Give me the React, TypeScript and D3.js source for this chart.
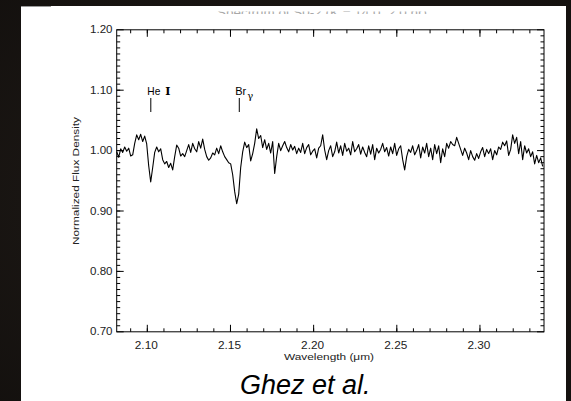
import React from "react";
import * as d3 from "d3";

const WAVE_START = 2.0816;
const WAVE_STEP = 0.0012023;
const FLUX = [
  0.998, 0.989, 1.003, 0.997, 1.006, 0.999, 1.004, 0.991, 0.993, 1.012,
  1.026, 1.018, 1.027, 1.015, 1.024, 1.011, 0.975, 0.948, 0.972, 0.997,
  1.006, 0.998, 1.003, 0.985, 0.978, 0.982, 0.972, 0.979, 0.968, 0.990,
  1.009, 1.004, 0.991, 0.995, 0.990, 1.000, 1.010, 0.997, 1.012, 1.003,
  0.998, 1.015, 1.004, 1.019, 1.002, 0.990, 0.984, 0.988, 0.996, 0.993,
  1.004, 0.995, 1.008, 0.998, 0.990, 0.985, 0.980, 0.978, 0.960, 0.932,
  0.912, 0.928, 0.972, 0.998, 1.014, 1.005, 1.010, 0.983, 0.995, 1.012,
  1.036, 1.020, 1.025, 1.005, 1.018, 1.002, 1.012, 0.996, 1.015, 0.962,
  0.990, 1.012, 1.000, 1.008, 1.015, 1.005, 0.998, 1.010, 1.001, 1.007,
  0.995, 1.004, 0.997, 1.012, 0.995, 1.005, 1.010, 0.993, 0.999, 1.003,
  0.988, 1.004, 1.008, 1.026, 1.001, 0.985, 1.000, 1.008, 0.990, 0.998,
  1.014, 0.996, 1.008, 0.992, 1.012, 0.999, 1.004, 0.993, 1.015, 0.998,
  1.003, 1.010, 0.994, 1.006, 0.997, 0.990, 1.008, 0.994, 1.010, 0.985,
  1.004, 0.996, 1.002, 1.012, 0.998, 1.005, 0.991, 1.006, 0.995, 1.012,
  0.992, 1.003, 1.008, 0.985, 0.968, 0.990, 1.002, 0.997, 1.008, 0.993,
  1.000, 1.010, 0.988, 1.006, 0.996, 1.012, 0.990, 1.004, 0.985, 1.010,
  0.995, 1.008, 0.980, 1.003, 0.990, 1.012, 1.004, 1.015, 1.010, 1.008,
  1.022, 1.012, 1.002, 0.992, 1.004, 0.996, 0.985, 1.000, 0.990, 0.984,
  0.995, 0.987, 0.998, 1.005, 0.990, 1.002, 0.995, 1.003, 0.985, 1.000,
  0.993, 1.006, 1.002, 1.014, 1.008, 1.016, 0.992, 1.002, 1.026, 1.012,
  1.022, 0.995, 1.015, 0.985, 1.008, 0.996, 1.003, 0.990, 0.998, 0.978,
  0.992, 0.980, 0.988, 0.974,
];

const X_TICKS = [2.1, 2.15, 2.2, 2.25, 2.3];
const X_TICK_LABELS = ["2.10", "2.15", "2.20", "2.25", "2.30"];
const Y_TICKS = [0.7, 0.8, 0.9, 1.0, 1.1, 1.2];
const Y_TICK_LABELS = ["0.70", "0.80", "0.90", "1.00", "1.10", "1.20"];

const LINE_MARKS = [
  { wave: 2.1021, label: "He", roman: "I" },
  { wave: 2.1553, label: "Br", sub: "γ" },
];

export default function App() {
  const W = 571, H = 401;
  const left = 116.7, right = 544, top = 29.8, bottom = 331.8;
  const x = d3.scaleLinear().domain([2.0816, 2.3385]).range([left, right]);
  const y = d3.scaleLinear().domain([0.7, 1.2]).range([bottom, top]);

  const data = FLUX.map((f, i) => ({ w: WAVE_START + i * WAVE_STEP, f }));
  const line = d3.line<{ w: number; f: number }>().x((d) => x(d.w)).y((d) => y(d.f));

  const xMinor = d3.range(2.09, 2.34, 0.01).filter((v) => x(v) > left + 0.5 && x(v) < right - 0.5);
  const yMinor = d3.range(0.71, 1.2, 0.01);
  const font = "'Liberation Sans', Arial, sans-serif";

  return (
    <svg width={W} height={H} style={{ position: "absolute", left: 0, top: 0 }} xmlns="http://www.w3.org/2000/svg">
      <defs>
        <clipPath id="titleclip">
          <rect x={0} y={11.5} width={W} height={2.5} />
        </clipPath>
        <radialGradient id="bg" cx="0.5" cy="0.5" r="0.8">
          <stop offset="0" stopColor="#221d19" />
          <stop offset="1" stopColor="#120f0d" />
        </radialGradient>
      </defs>
      <rect x={0} y={0} width={W} height={H} fill="url(#bg)" />
      <rect x={21} y={6} width={545} height={H - 6} fill="#ffffff" />
      <rect x={21} y={6} width={30} height={1} fill="#9a9a9a" />

      {/* cut-off title */}
      <text x={322} y={17} textAnchor="middle" fontFamily={font} fontSize={12} fill="#a8a8a8" clipPath="url(#titleclip)" textLength={210} lengthAdjust="spacingAndGlyphs">
        Spectrum of S0-2 (K = 14.0, 2.0 hr)
      </text>

      {/* spectrum */}
      <path d={line(data) || ""} fill="none" stroke="#000" strokeWidth={1.1} strokeLinejoin="round" />

      {/* frame */}
      <rect x={left} y={top} width={right - left} height={bottom - top} fill="none" stroke="#000" strokeWidth={1} />

      {/* x ticks */}
      {X_TICKS.map((t) => (
        <g key={"xt" + t}>
          <line x1={x(t)} x2={x(t)} y1={bottom} y2={bottom - 7} stroke="#000" />
          <line x1={x(t)} x2={x(t)} y1={top} y2={top + 7} stroke="#000" />
        </g>
      ))}
      {xMinor.map((t) => (
        <g key={"xm" + t}>
          <line x1={x(t)} x2={x(t)} y1={bottom} y2={bottom - 3.5} stroke="#000" />
          <line x1={x(t)} x2={x(t)} y1={top} y2={top + 3.5} stroke="#000" />
        </g>
      ))}
      {X_TICKS.map((t, i) => (
        <text key={"xl" + t} x={x(t) - 1} y={349} textAnchor="middle" fontFamily={font} fontSize={10} fill="#222" textLength={23} lengthAdjust="spacingAndGlyphs">
          {X_TICK_LABELS[i]}
        </text>
      ))}
      <text x={329} y={360} textAnchor="middle" fontFamily={font} fontSize={9} fill="#222" textLength={90} lengthAdjust="spacingAndGlyphs">
        Wavelength (μm)
      </text>

      {/* y ticks */}
      {Y_TICKS.map((t) => (
        <g key={"yt" + t}>
          <line x1={left} x2={left + 7} y1={y(t)} y2={y(t)} stroke="#000" />
          <line x1={right} x2={right - 7} y1={y(t)} y2={y(t)} stroke="#000" />
        </g>
      ))}
      {yMinor.map((t) => (
        <g key={"ym" + t}>
          <line x1={left} x2={left + 3.5} y1={y(t)} y2={y(t)} stroke="#000" />
          <line x1={right} x2={right - 3.5} y1={y(t)} y2={y(t)} stroke="#000" />
        </g>
      ))}
      {Y_TICKS.map((t, i) => (
        <text key={"yl" + t} x={112.5} y={y(t) + 3.6} textAnchor="end" fontFamily={font} fontSize={10} fill="#222" textLength={22.5} lengthAdjust="spacingAndGlyphs">
          {Y_TICK_LABELS[i]}
        </text>
      ))}
      <text transform={`translate(79,181) rotate(-90)`} textAnchor="middle" fontFamily={font} fontSize={9} fill="#222" textLength={128} lengthAdjust="spacingAndGlyphs">
        Normalized Flux Density
      </text>

      {/* line identifications */}
      {LINE_MARKS.map((m) => (
        <g key={m.label}>
          <line x1={x(m.wave)} x2={x(m.wave)} y1={98} y2={112} stroke="#000" strokeWidth={1} />
          {m.roman ? (
            <text x={x(m.wave) - 3.5} y={94.5} fontFamily={font} fontSize={11} fill="#000">
              <tspan textLength={13} lengthAdjust="spacingAndGlyphs">{m.label}</tspan>
              <tspan dx={5} fontFamily="'DejaVu Serif', 'Liberation Serif', serif" fontWeight="bold" fontSize={11}>{m.roman}</tspan>
            </text>
          ) : (
            <text x={x(m.wave) - 4} y={94.5} fontFamily={font} fontSize={11} fill="#000">
              {m.label}
              <tspan dx={1} dy={4} fontSize={10} fontFamily="'DejaVu Serif', serif">{m.sub}</tspan>
            </text>
          )}
        </g>
      ))}

      {/* caption */}
      <text x={240} y={394} fontFamily={font} fontStyle="italic" fontSize={27} fill="#000">
        Ghez et al.
      </text>
    </svg>
  );
}
